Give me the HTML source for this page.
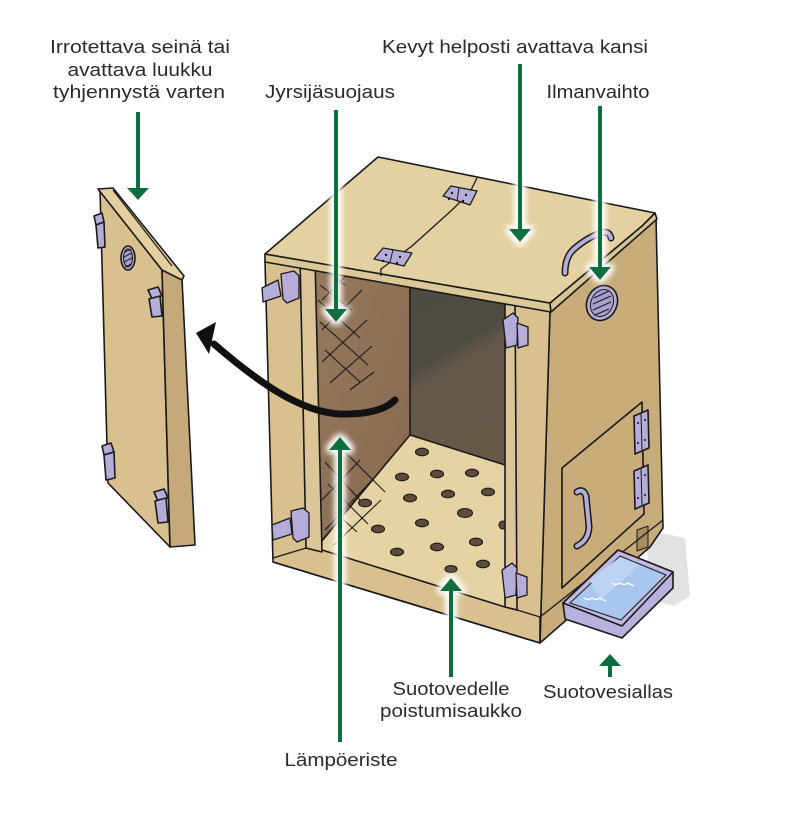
<!DOCTYPE html>
<html><head><meta charset="utf-8">
<style>
html,body{margin:0;padding:0;background:#fff;}
svg{display:block;}
text{font-family:"Liberation Sans",sans-serif;font-size:18px;fill:#2b2b2b;}
</style></head>
<body>
<svg width="796" height="816" viewBox="0 0 796 816" xmlns="http://www.w3.org/2000/svg">
<defs>
<filter id="glow" x="-60%" y="-20%" width="220%" height="140%">
 <feMorphology in="SourceAlpha" operator="dilate" radius="2" result="d"/>
 <feGaussianBlur in="d" stdDeviation="3.5" result="b"/>
 <feFlood flood-color="#ffffff"/>
 <feComposite in2="b" operator="in" result="w"/>
 <feMerge><feMergeNode in="w"/><feMergeNode in="w"/><feMergeNode in="SourceGraphic"/></feMerge>
</filter>
<linearGradient id="backw" x1="0" y1="0" x2="0.3" y2="1">
 <stop offset="0" stop-color="#4c4b43"/>
 <stop offset="0.45" stop-color="#4f4c43"/>
 <stop offset="0.55" stop-color="#63574a"/>
 <stop offset="1" stop-color="#655847"/>
</linearGradient>
<linearGradient id="leftw" x1="0" y1="0" x2="1" y2="1">
 <stop offset="0" stop-color="#96795d"/>
 <stop offset="1" stop-color="#86684f"/>
</linearGradient>
</defs>

<!-- ===== Removed door (left) ===== -->
<g stroke="#1a1a1a" stroke-width="1.6" stroke-linejoin="round">
 <polygon points="100,190 162,270 170,547 108,483" fill="#d8c08f"/>
 <polygon points="162,270 182,279 195,545 170,547" fill="#c5a97a"/>
 <polygon points="98,189 113,188 184,276 182,280 162,270" fill="#e3cf9f"/>
 <line x1="113" y1="190" x2="172" y2="266" stroke-width="1.2"/>
 <ellipse cx="128" cy="258" rx="7" ry="12" fill="#b5acd8"/>
 <ellipse cx="128" cy="258" rx="4.5" ry="9" fill="#a79ecb" stroke-width="1"/>
 <g stroke-width="1"><line x1="125" y1="252" x2="131" y2="249"/><line x1="124" y1="257" x2="132" y2="253"/><line x1="124" y1="262" x2="132" y2="258"/><line x1="125" y1="267" x2="131" y2="264"/></g>
 <g fill="#b5acd8">
  <polygon points="94,216 102,213 104,222 96,225"/><polygon points="96,225 104,222 105,247 98,248"/>
  <polygon points="102,446 111,443 114,452 104,455"/><polygon points="104,455 114,452 115,478 106,480"/>
  <polygon points="148,290 158,287 162,296 152,299"/><polygon points="149,299 160,296 162,316 152,317"/>
  <polygon points="154,492 164,489 168,498 158,501"/><polygon points="155,501 166,498 168,522 158,523"/>
 </g>
</g>

<!-- shadow -->
<polygon points="646,530 685,538 690,596 674,606 650,600" fill="#e2e2e2"/>

<!-- ===== Main box ===== -->
<g stroke="#1a1a1a" stroke-width="1.6" stroke-linejoin="round">
 <!-- right side -->
 <polygon points="550,311 656,217 663,528 650,547 540,643" fill="#c8ac7a"/>
 <polygon points="637,530 648,526 648,547 637,551" fill="#a68d5f" stroke-width="1"/>
 <line x1="540" y1="617" x2="663" y2="520" stroke-width="1.3"/>
 <!-- hatch -->
 <polygon points="562,468 642,402 644,514 562,588" fill="#c8ac7a"/>
 <g fill="#b5acd8">
  <polygon points="634,416 648,410 649,448 635,454"/>
  <polygon points="634,471 648,465 649,503 635,509"/>
 </g>
 <g stroke-width="1"><line x1="641" y1="414" x2="642" y2="450"/><line x1="641" y1="469" x2="642" y2="505"/></g>
 <g fill="#1a1a1a" stroke="none"><circle cx="638" cy="423" r="1"/><circle cx="638" cy="443" r="1"/><circle cx="645" cy="420" r="1"/><circle cx="645" cy="440" r="1"/><circle cx="638" cy="478" r="1"/><circle cx="638" cy="498" r="1"/><circle cx="645" cy="475" r="1"/><circle cx="645" cy="495" r="1"/></g>
 <path d="M577,492 Q583,488 586,496 L589,526 Q589,540 577,546" fill="none" stroke="#1a1a1a" stroke-width="7" stroke-linecap="round"/>
 <path d="M577,492 Q583,488 586,496 L589,526 Q589,540 577,546" fill="none" stroke="#b5acd8" stroke-width="4" stroke-linecap="round"/>
 <!-- right vent -->
 <ellipse cx="602" cy="303" rx="15" ry="18" transform="rotate(25 602 303)" fill="#b5acd8"/>
 <ellipse cx="602" cy="303" rx="11" ry="14" transform="rotate(25 602 303)" fill="#a99fcf" stroke-width="1"/>
 <g stroke-width="1.1"><line x1="594" y1="298" x2="609" y2="291"/><line x1="593" y1="304" x2="611" y2="296"/><line x1="593" y1="310" x2="611" y2="302"/><line x1="595" y1="315" x2="609" y2="309"/></g>

 <!-- front face -->
 <polygon points="265,261 550,311 540,643 273,562" fill="#d8c08f"/>
 <polygon points="315,263 505,300 505,607 322,550" fill="#e6d3a3" stroke="none"/>
 <polygon points="315,263 410,283 410,435 320,545 317,545" fill="url(#leftw)" stroke="none"/>
 <polygon points="410,283 505,300 505,465 410,435" fill="url(#backw)" stroke="none"/>
 <polyline points="410,283 410,435 505,465" fill="none"/>
 <line x1="410" y1="435" x2="320" y2="543"/>
 <g fill="#5c4c39" stroke="#1a1a1a" stroke-width="1.1">
  <ellipse cx="422" cy="452" rx="6.5" ry="3.8"/>
  <ellipse cx="402" cy="477" rx="6.5" ry="3.8"/>
  <ellipse cx="437" cy="474" rx="6.5" ry="3.8"/>
  <ellipse cx="472" cy="473" rx="6.5" ry="3.8"/>
  <ellipse cx="410" cy="498" rx="6.5" ry="3.8"/>
  <ellipse cx="448" cy="494" rx="6.5" ry="3.8"/>
  <ellipse cx="488" cy="492" rx="6.5" ry="3.8"/>
  <ellipse cx="365" cy="503" rx="6.5" ry="3.8"/>
  <ellipse cx="465" cy="513" rx="7.5" ry="4.5"/>
  <ellipse cx="422" cy="523" rx="6.5" ry="3.8"/>
  <ellipse cx="378" cy="529" rx="6.5" ry="3.8"/>
  <ellipse cx="503" cy="525" rx="4" ry="4"/>
  <ellipse cx="397" cy="552" rx="6.5" ry="3.8"/>
  <ellipse cx="437" cy="547" rx="6.5" ry="3.8"/>
  <ellipse cx="476" cy="542" rx="6.5" ry="3.8"/>
  <ellipse cx="483" cy="564" rx="6.5" ry="3.8"/>
  <ellipse cx="451" cy="569" rx="6" ry="3.5"/>
 </g>
 <g stroke="#1a1a1a" stroke-width="1.1" fill="none">
  <line x1="320" y1="285" x2="352" y2="310"/><line x1="318" y1="300" x2="360" y2="338"/><line x1="320" y1="322" x2="368" y2="365"/><line x1="325" y1="350" x2="360" y2="382"/><line x1="322" y1="268" x2="345" y2="285"/>
  <line x1="322" y1="300" x2="350" y2="272"/><line x1="322" y1="330" x2="362" y2="290"/><line x1="322" y1="362" x2="367" y2="320"/><line x1="330" y1="383" x2="372" y2="346"/><line x1="350" y1="390" x2="374" y2="372"/>
  <line x1="325" y1="462" x2="360" y2="500"/><line x1="328" y1="484" x2="368" y2="524"/><line x1="335" y1="512" x2="357" y2="532"/><line x1="345" y1="452" x2="385" y2="492"/>
  <line x1="322" y1="500" x2="360" y2="460"/><line x1="325" y1="530" x2="375" y2="477"/><line x1="334" y1="545" x2="381" y2="500"/>
 </g>
 <line x1="322" y1="550" x2="505" y2="607"/>
 <line x1="315" y1="263" x2="505" y2="300"/>
 <polygon points="300,256 315,259 322,552 306,548" fill="#dcc698"/>
 <polygon points="505,298 515,296 517,610 505,607" fill="#dcc698"/>
 <line x1="273" y1="562" x2="540" y2="643" />
 <line x1="306" y1="548" x2="273" y2="558" stroke-width="1.2"/>
 <line x1="540" y1="617" x2="540" y2="643"/>
 <line x1="517" y1="610" x2="540" y2="617" stroke-width="1.2"/>

 <!-- latches -->
 <g fill="#b5acd8" stroke-width="1.3">
  <polygon points="262,288 278,280 281,296 263,302"/>
  <polygon points="281,274 294,271 299,276 299,298 287,303 283,299"/>
  <polygon points="272,525 290,518 292,534 273,540"/>
  <polygon points="291,511 303,508 309,513 309,537 297,542 293,538"/>
  <polygon points="503,320 513,313 518,318 517,345 506,348"/>
  <polygon points="517,323 528,327 528,345 518,348"/>
  <polygon points="502,570 512,563 517,568 516,595 505,598"/>
  <polygon points="516,573 527,577 527,595 517,598"/>
 </g>

 <!-- lid -->
 <polygon points="265,254 550,303 551,312 265,262" fill="#dcc796"/>
 <polygon points="642,226 655,213 657,219 551,312 550,303" fill="#d9c493"/>
 <polygon points="378,157 655,213 642,226 550,303 265,254" fill="#e4d1a1"/>
 <polyline points="477,178 470,192 452,210 412,246 381,269 381,276" fill="none" stroke-width="1.3"/>
 <g fill="#b5acd8" stroke-width="1.3">
  <polygon points="443,196 451,186 477,191 470,205"/>
  <polygon points="374,259 383,248 412,253 404,266"/>
 </g>
 <g stroke-width="1"><line x1="459" y1="188" x2="457" y2="201"/><line x1="393" y1="250" x2="390" y2="262"/></g>
 <g fill="#1a1a1a" stroke="none">
  <circle cx="452" cy="193" r="1.2"/><circle cx="449" cy="199" r="1.2"/><circle cx="466" cy="195" r="1.2"/><circle cx="463" cy="201" r="1.2"/>
  <circle cx="386" cy="255" r="1.2"/><circle cx="383" cy="261" r="1.2"/><circle cx="400" cy="257" r="1.2"/><circle cx="397" cy="263" r="1.2"/>
 </g>
 <path d="M565,273 Q565,257 574,249 Q588,237 601,233 Q609,230 611,238" fill="none" stroke="#1a1a1a" stroke-width="7" stroke-linecap="round"/>
 <path d="M565,273 Q565,257 574,249 Q588,237 601,233 Q609,230 611,238" fill="none" stroke="#b5acd8" stroke-width="4" stroke-linecap="round"/>

 <!-- tray -->
 <polygon points="563,603 618,550 673,572 673,588 622,638 565,619" fill="#b9b1dd"/>
 <polygon points="563,603 618,550 673,572 622,626" fill="#c0b8e2"/>
 <polygon points="570,603 620,556 666,575 621,620" fill="#a9c6ee" stroke-width="1"/>
 <polygon points="590,580 620,557 640,565 600,600" fill="#bcd3f2" stroke="none"/>
</g>
<g stroke="#fff" stroke-width="1.4" fill="none">
 <path d="M612,583 q4,3 8,0 q4,3 8,0 q3,2 6,3"/>
 <path d="M584,598 q4,3 8,0 q4,3 8,0 q3,2 6,3"/>
</g>

<!-- black curved arrow (over box) -->
<path d="M395,400 Q380,415 340,414 C300,412 258,382 214,344" fill="none" stroke="#111" stroke-width="7" stroke-linecap="round"/>
<polygon points="196,333 216,322 209,354" fill="#111"/>

<!-- ===== Green arrows ===== -->
<g fill="#0b6e40" stroke="#0b6e40" filter="url(#glow)">
 <line x1="138" y1="112" x2="138" y2="192" stroke-width="4"/>
 <polygon points="127,188 149,188 138,200" stroke="none"/>
</g>
<g fill="#0b6e40" stroke="#0b6e40" filter="url(#glow)">
 <line x1="336" y1="110" x2="336" y2="314" stroke-width="4"/>
 <polygon points="325,309 347,309 336,322" stroke="none"/>
</g>
<g fill="#0b6e40" stroke="#0b6e40" filter="url(#glow)">
 <line x1="520" y1="64" x2="520" y2="234" stroke-width="4"/>
 <polygon points="509,229 531,229 520,242" stroke="none"/>
</g>
<g fill="#0b6e40" stroke="#0b6e40" filter="url(#glow)">
 <line x1="600" y1="106" x2="600" y2="272" stroke-width="4"/>
 <polygon points="589,267 611,267 600,280" stroke="none"/>
</g>
<g fill="#0b6e40" stroke="#0b6e40" filter="url(#glow)">
 <line x1="340" y1="445" x2="340" y2="742" stroke-width="4"/>
 <polygon points="329,450 351,450 340,437" stroke="none"/>
</g>
<g fill="#0b6e40" stroke="#0b6e40" filter="url(#glow)">
 <line x1="451" y1="586" x2="451" y2="677" stroke-width="4"/>
 <polygon points="440,591 462,591 451,578" stroke="none"/>
</g>
<g fill="#0b6e40" stroke="#0b6e40">
 <line x1="610" y1="662" x2="610" y2="677" stroke-width="4"/>
 <polygon points="599,666 621,666 610,654" stroke="none"/>
</g>

<!-- ===== Labels ===== -->
<text x="140" y="53" text-anchor="middle" textLength="180" lengthAdjust="spacingAndGlyphs">Irrotettava seinä tai</text>
<text x="140" y="76" text-anchor="middle" textLength="145" lengthAdjust="spacingAndGlyphs">avattava luukku</text>
<text x="139" y="98" text-anchor="middle" textLength="172" lengthAdjust="spacingAndGlyphs">tyhjennystä varten</text>
<text x="515" y="53" text-anchor="middle" textLength="266" lengthAdjust="spacingAndGlyphs">Kevyt helposti avattava kansi</text>
<text x="330" y="98" text-anchor="middle" textLength="130" lengthAdjust="spacingAndGlyphs">Jyrsijäsuojaus</text>
<text x="598" y="98" text-anchor="middle" textLength="103" lengthAdjust="spacingAndGlyphs">Ilmanvaihto</text>
<text x="451" y="695" text-anchor="middle" textLength="117" lengthAdjust="spacingAndGlyphs">Suotovedelle</text>
<text x="451" y="717" text-anchor="middle" textLength="142" lengthAdjust="spacingAndGlyphs">poistumisaukko</text>
<text x="608" y="698" text-anchor="middle" textLength="130" lengthAdjust="spacingAndGlyphs">Suotovesiallas</text>
<text x="341" y="766" text-anchor="middle" textLength="113" lengthAdjust="spacingAndGlyphs">Lämpöeriste</text>
</svg>
</body></html>
